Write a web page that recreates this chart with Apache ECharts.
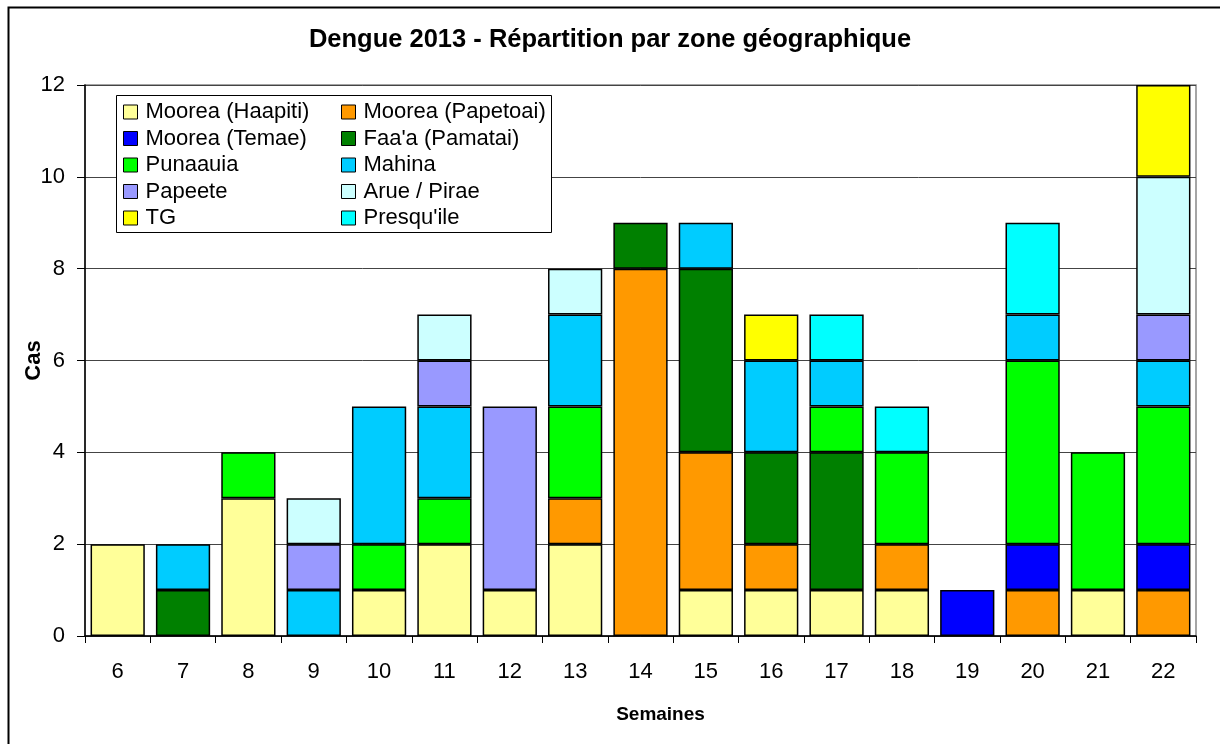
<!DOCTYPE html>
<html>
<head>
<meta charset="utf-8">
<script src="https://cdn.jsdelivr.net/npm/echarts@6/dist/echarts.min.js"></script>
<style>
  html, body { margin: 0; padding: 0; background: #fff; }
  #main { width: 1220px; height: 744px; }
</style>
</head>
<body>
<div id="main"></div>
<script>
var FONT = '"Liberation Sans", Arial, sans-serif';

// semaines
var weeks = ['6', '7', '8', '9', '10', '11', '12', '13', '14', '15', '16', '17', '18', '19', '20', '21', '22'];

// cas par zone (empilés dans cet ordre)
var haapiti   = [2, 0, 3, 0, 1, 2, 1, 2, 0, 1, 1, 1, 1, 0, 0, 1, 0];
var papetoai  = [0, 0, 0, 0, 0, 0, 0, 1, 8, 3, 1, 0, 1, 0, 1, 0, 1];
var temae     = [0, 0, 0, 0, 0, 0, 0, 0, 0, 0, 0, 0, 0, 1, 1, 0, 1];
var faaa      = [0, 1, 0, 0, 0, 0, 0, 0, 1, 4, 2, 3, 0, 0, 0, 0, 0];
var punaauia  = [0, 0, 1, 0, 1, 1, 0, 2, 0, 0, 0, 1, 2, 0, 4, 3, 3];
var mahina    = [0, 1, 0, 1, 3, 2, 0, 2, 0, 1, 2, 1, 0, 0, 1, 0, 1];
var papeete   = [0, 0, 0, 1, 0, 1, 4, 0, 0, 0, 0, 0, 0, 0, 0, 0, 1];
var aruePirae = [0, 0, 0, 1, 0, 1, 0, 1, 0, 0, 0, 0, 0, 0, 0, 0, 3];
var tg        = [0, 0, 0, 0, 0, 0, 0, 0, 0, 0, 1, 0, 0, 0, 0, 0, 2];
var presquile = [0, 0, 0, 0, 0, 0, 0, 0, 0, 0, 0, 1, 1, 0, 2, 0, 0];

var names = ['Moorea (Haapiti)', 'Moorea (Papetoai)', 'Moorea (Temae)', "Faa'a (Pamatai)", 'Punaauia',
             'Mahina', 'Papeete', 'Arue / Pirae', 'TG', "Presqu'ile"];
var colors = ['#FFFF99', '#FF9900', '#0000FF', '#008000', '#00FF00',
              '#00CCFF', '#9999FF', '#CCFFFF', '#FFFF00', '#00FFFF'];
var values = [haapiti, papetoai, temae, faaa, punaauia, mahina, papeete, aruePirae, tg, presquile];

//colonnes de la légende
var legendLeft = [names[0], names[2], names[4], names[6], names[8]];
var legendRight = [names[1], names[3], names[5], names[7], names[9]];

var series = values.map(function (arr, i) {
    return {
        name: names[i],
        type: 'bar',
        stack: 'cas',
        barCategoryGap: '17%',
        itemStyle: { color: colors[i], borderColor: '#000', borderWidth: 1.5 },
        data: arr.map(function (v) { return v === 0 ? '-' : v; }) //pas de rectangle vide
    };
});

function legendCol(left, data) {
    return {
        orient: 'vertical',
        left: left,
        top: 100,
        padding: 0,
        itemGap: 2.5,
        itemWidth: 14,
        itemHeight: 14,
        icon: 'rect',
        z: 10,
        selectedMode: false,
        itemStyle: { borderColor: '#000', borderWidth: 1 },
        textStyle: { fontFamily: FONT, fontSize: 22, color: '#000', lineHeight: 24, padding: [0, 0, 0, 3] },
        data: data
    };
}

var option = {
    animation: false,
    title: {
        text: 'Dengue 2013 - Répartition par zone géographique',
        left: 'center',
        top: 27,
        padding: 0,
        textStyle: { fontFamily: FONT, fontSize: 25.5, fontWeight: 'bold', color: '#000' }
    },
    legend: [legendCol(123, legendLeft), legendCol(341, legendRight)],
    graphic: [
        {
            type: 'rect', left: 6, top: 5, z: 0,
            shape: { width: 1300, height: 800 },
            style: { fill: 'none', stroke: '#000', lineWidth: 2 }
        },
        {
            type: 'rect', left: 116, top: 95, z: 5,
            shape: { width: 435, height: 137 },
            style: { fill: '#fff', stroke: '#000', lineWidth: 1 }
        }
    ],
    grid: {
        left: 85,
        right: 24,
        top: 85,
        bottom: 108,
        show: true,
        borderColor: '#888',
        borderWidth: 1.5
    },
    xAxis: {
        type: 'category',
        data: weeks,
        name: 'Semaines',
        nameLocation: 'middle',
        nameGap: 69,
        nameMoveOverlap: false,
        nameTextStyle: { fontFamily: FONT, fontSize: 19, fontWeight: 'bold', color: '#000', padding: [0, 0, 0, 40] },
        axisLine: { lineStyle: { color: '#000', width: 1.5 } },
        axisTick: { show: true, length: 7, interval: 0, lineStyle: { color: '#000' } },
        axisLabel: { fontFamily: FONT, fontSize: 22, color: '#000', margin: 25, interval: 0 }
    },
    yAxis: {
        type: 'value',
        min: 0,
        max: 12,
        interval: 2,
        name: 'Cas',
        nameLocation: 'middle',
        nameGap: 40,
        nameMoveOverlap: false,
        nameTextStyle: { fontFamily: FONT, fontSize: 22, fontWeight: 'bold', color: '#000' },
        axisLine: { show: true, lineStyle: { color: '#000', width: 1.5 } },
        axisTick: { show: true, length: 8, lineStyle: { color: '#000' } },
        axisLabel: { fontFamily: FONT, fontSize: 22, color: '#000', margin: 20 },
        splitLine: { lineStyle: { color: '#444', width: 1 } }
    },
    series: series
};

var myChart = echarts.init(document.getElementById('main'));
myChart.setOption(option);
window.onresize = myChart.resize;
</script>
</body>
</html>
